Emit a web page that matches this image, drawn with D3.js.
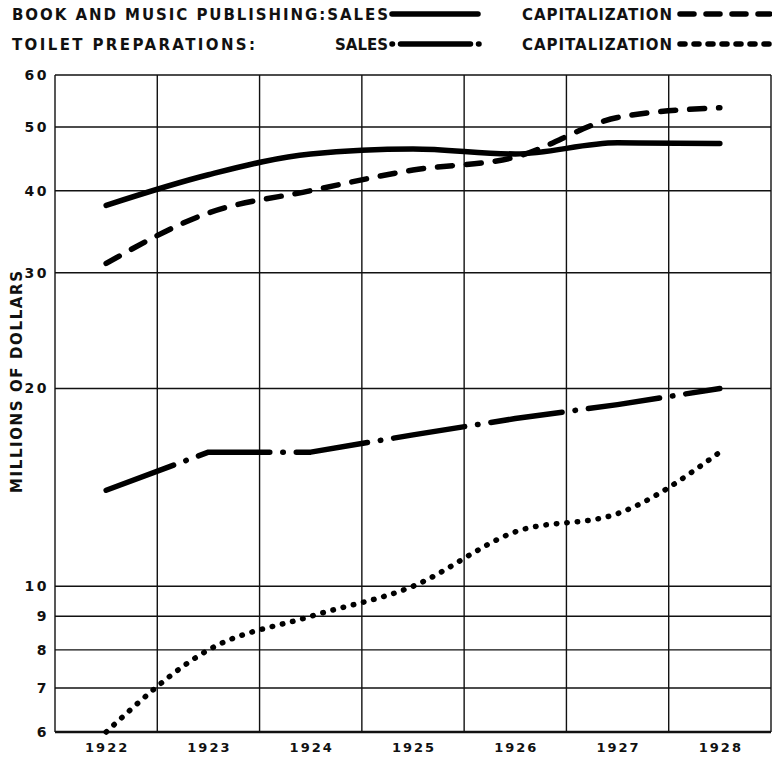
<!DOCTYPE html>
<html>
<head>
<meta charset="utf-8">
<script src="https://cdn.jsdelivr.net/npm/d3@7"></script>
<style>
  body { margin: 0; background: #fff; }
  text { font-family: "DejaVu Sans", sans-serif; font-weight: bold; fill: #111; }
</style>
</head>
<body>
<figure id="chart" style="margin:0"></figure>
<script>
// data
const years = [1922, 1923, 1924, 1925, 1926, 1927, 1928];
const bookSales = [38, 42.3, 45.5, 46.3, 45.5, 47.3, 47.2];
const bookCapital = [31, 37, 40, 43, 45, 51.7, 53.5];
const toiletSales = [14, 16, 16, 17, 18, 18.9, 20];
const toiletCapital = [6, 8, 9, 10, 12.1, 12.9, 16];
const yTicks = [6, 7, 8, 9, 10, 20, 30, 40, 50, 60];

const W = 772, H = 758;
const margin = {top: 75, right: 1, bottom: 26, left: 55};

const svg = d3.select("#chart")
  .append("svg")
  .attr("width", W)
  .attr("height", H);

const x = d3.scaleBand()
  .domain(years)
  .range([margin.left, W - margin.right]);

const y = d3.scaleLog()
  .domain([6, 60])
  .range([H - margin.bottom, margin.top]);

// grid
const grid = svg.append("g").attr("stroke", "#111").attr("stroke-width", 1.4);
grid.selectAll("line.h")
  .data(yTicks)
  .enter().append("line")
    .attr("x1", margin.left).attr("x2", W - margin.right)
    .attr("y1", d => y(d)).attr("y2", d => y(d));
grid.selectAll("line.v")
  .data(years.map(d => x(d)).concat([x(1928) + x.bandwidth()]))
  .enter().append("line")
    .attr("x1", d => d).attr("x2", d => d)
    .attr("y1", margin.top).attr("y2", H - margin.bottom);
svg.append("line")
  .attr("x1", margin.left).attr("x2", W - margin.right)
  .attr("y1", y(6)).attr("y2", y(6))
  .attr("stroke", "#111").attr("stroke-width", 2.5);

// y tick labels
svg.append("g").selectAll("text")
  .data(yTicks)
  .enter().append("text")
    .attr("x", 49)
    .attr("y", d => y(d) + 5)
    .attr("text-anchor", "end")
    .style("font-size", "14px")
    .style("letter-spacing", "2.5px")
    .text(d => d);

// x labels
svg.append("g").selectAll("text")
  .data(years)
  .enter().append("text")
    .attr("x", d => x(d) + x.bandwidth() / 2 + 1)
    .attr("y", 752)
    .attr("text-anchor", "middle")
    .style("font-size", "13px")
    .style("letter-spacing", "2px")
    .text(d => d);

// y axis title
svg.append("text")
  .attr("transform", "translate(22,382) rotate(-90)")
  .attr("text-anchor", "middle")
  .style("font-size", "15px")
  .attr("textLength", 222)
  .attr("lengthAdjust", "spacing")
  .text("MILLIONS OF DOLLARS");

// line styles
const styles = {
  bookSales: {dash: null, curve: d3.curveMonotoneX},
  bookCapital: {dash: "15,14", curve: d3.curveMonotoneX},
  toiletSales: {dash: "72,13,0.5,13", curve: d3.curveLinear},
  toiletCapital: {dash: "0.5,10", curve: d3.curveMonotoneX}
};

function drawSeries(values, st) {
  const line = d3.line()
    .x((d, i) => x(years[i]) + x.bandwidth() / 2)
    .y(d => y(d))
    .curve(st.curve);
  svg.append("path")
    .datum(values)
    .attr("d", line)
    .attr("fill", "none")
    .attr("stroke", "#000")
    .attr("stroke-width", 5.5)
    .attr("stroke-linecap", "round")
    .attr("stroke-linejoin", "round")
    .attr("stroke-dasharray", st.dash);
}
drawSeries(bookSales, styles.bookSales);
drawSeries(bookCapital, styles.bookCapital);
drawSeries(toiletSales, styles.toiletSales);
drawSeries(toiletCapital, styles.toiletCapital);

// legend
function legendText(str, x0, y0, len) {
  svg.append("text")
    .attr("x", x0).attr("y", y0)
    .style("font-size", "15px")
    .attr("textLength", len)
    .attr("lengthAdjust", "spacing")
    .text(str);
}
function legendSample(x1, x2, y0, dash) {
  svg.append("line")
    .attr("x1", x1).attr("x2", x2)
    .attr("y1", y0).attr("y2", y0)
    .attr("stroke", "#000")
    .attr("stroke-width", 5.5)
    .attr("stroke-linecap", "round")
    .attr("stroke-dasharray", dash);
}
legendText("BOOK AND MUSIC PUBLISHING:SALES", 12, 20, 376);
legendText("CAPITALIZATION", 522, 20, 150);
legendText("TOILET PREPARATIONS:", 12, 50, 243);
legendText("SALES", 335, 50, 53);
legendText("CAPITALIZATION", 522, 50, 150);
legendSample(392, 478, 14, null);
legendSample(680, 770, 14, "14,12");
legendSample(392, 479, 44, "0.5,8,70,8,0.5,10");
legendSample(680, 770, 44, "5,9");
</script>
</body>
</html>
